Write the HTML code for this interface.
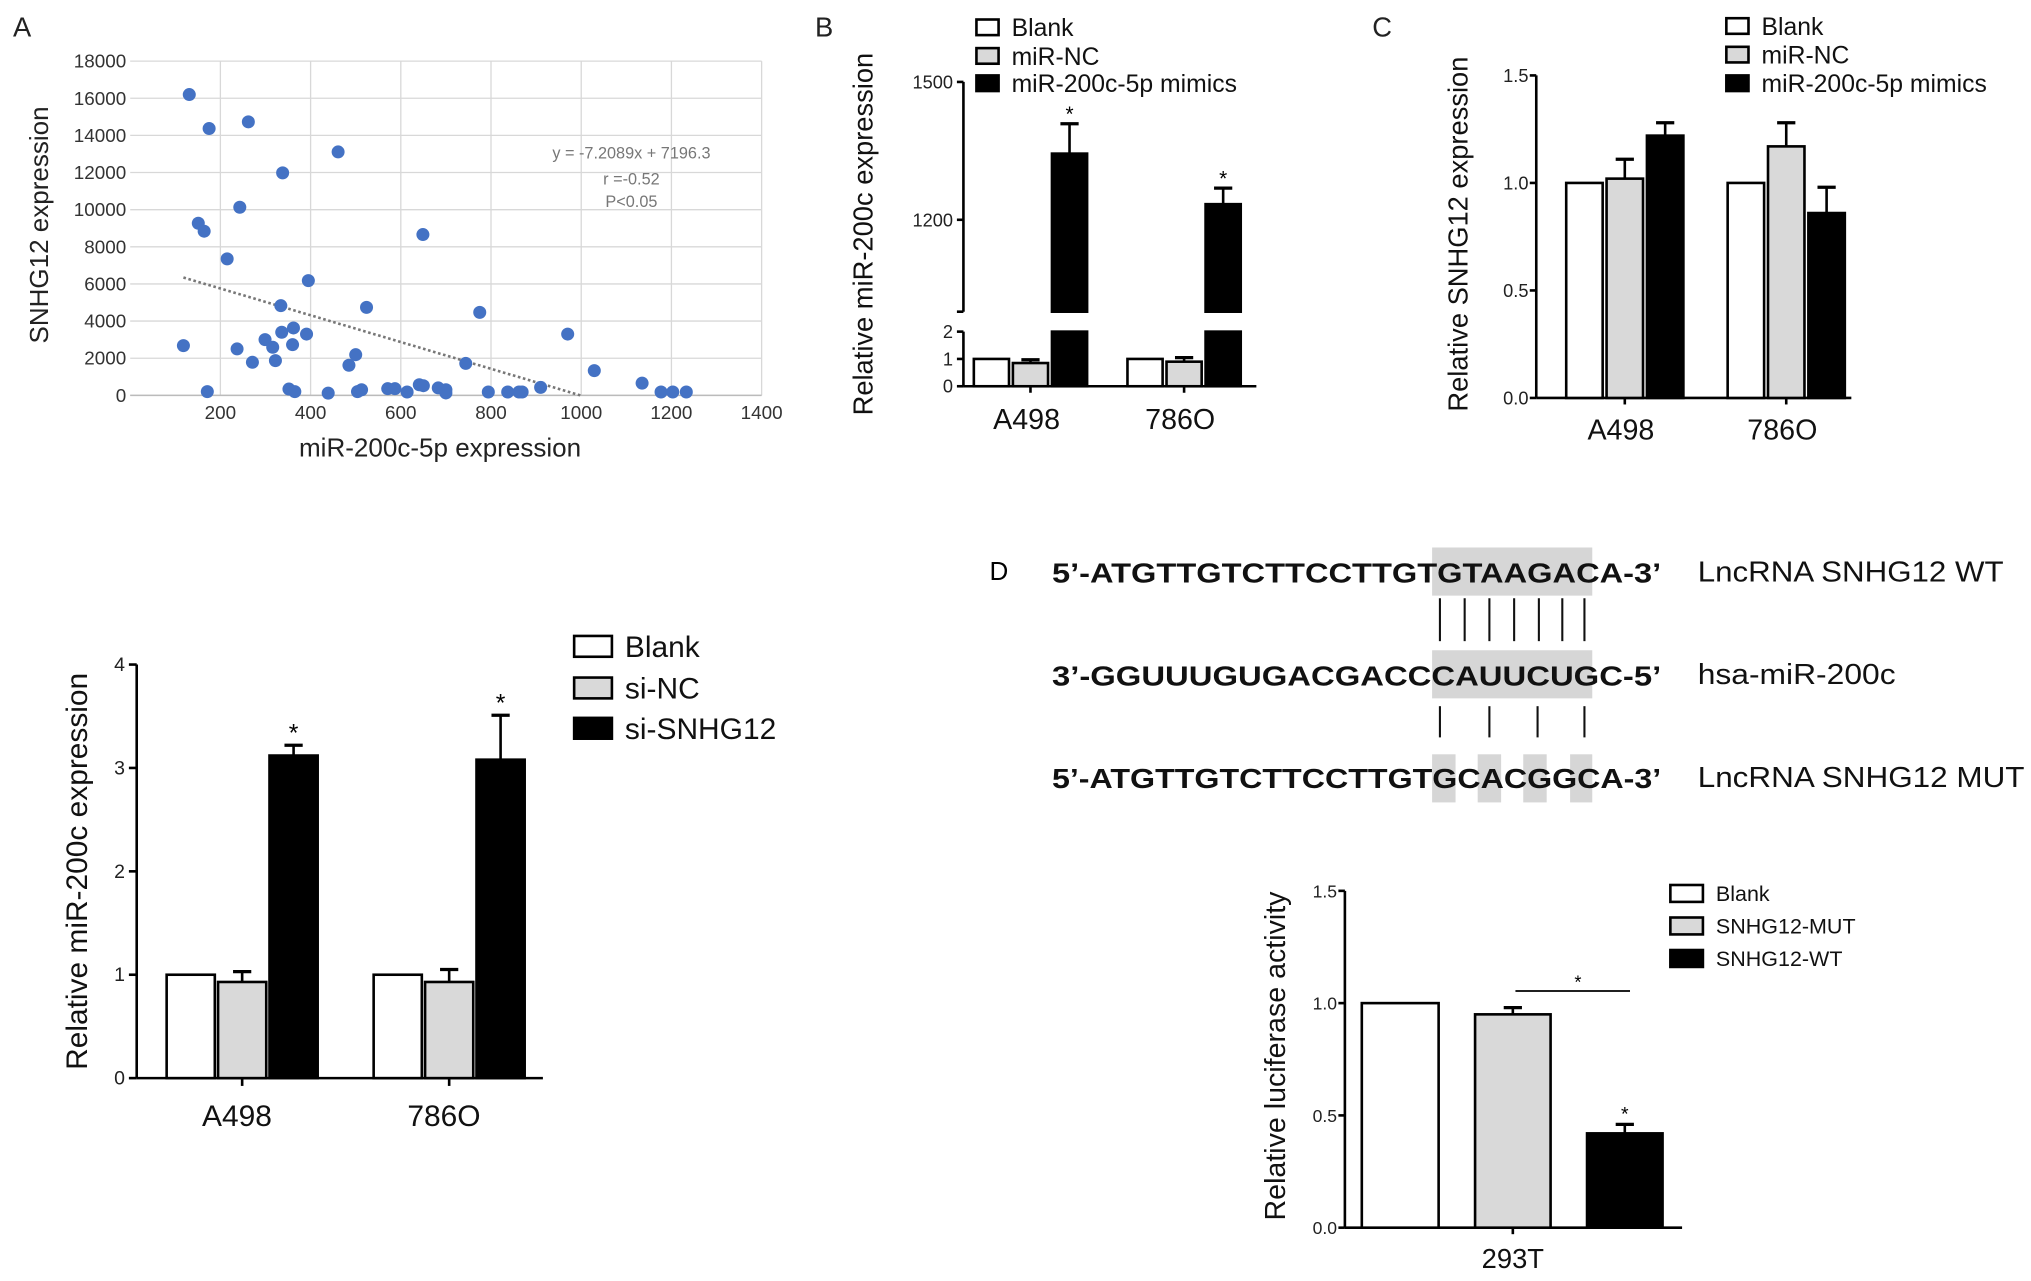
<!DOCTYPE html>
<html><head><meta charset="utf-8">
<style>
html,body{margin:0;padding:0;background:#fff;}
svg{display:block;font-family:"Liberation Sans",Arial,sans-serif;}
</style></head>
<body>
<svg id="fig" width="2031" height="1281" viewBox="0 0 1560 985" preserveAspectRatio="none">
 <rect x="0" y="0" width="1560" height="985" fill="#fff"/>
 <g id="pA"></g>
 <g id="pB"></g>
 <g id="pC"></g>
 <g id="pE"></g>
 <g id="pD">
  <text x="760" y="446" font-size="20">D</text>
  <rect x="1100" y="421" width="123" height="37" fill="#d6d6d6"/>
  <rect x="1100" y="500" width="123" height="37" fill="#d6d6d6"/>
  <rect x="1100" y="580" width="18" height="37" fill="#d6d6d6"/>
  <rect x="1135" y="580" width="18" height="37" fill="#d6d6d6"/>
  <rect x="1170" y="580" width="18" height="37" fill="#d6d6d6"/>
  <rect x="1206" y="580" width="17" height="37" fill="#d6d6d6"/>
  <g stroke="#111" stroke-width="1.6">
   <line x1="1106" y1="460" x2="1106" y2="493"/><line x1="1125" y1="460" x2="1125" y2="493"/><line x1="1144" y1="460" x2="1144" y2="493"/><line x1="1163" y1="460" x2="1163" y2="493"/><line x1="1182" y1="460" x2="1182" y2="493"/><line x1="1200" y1="460" x2="1200" y2="493"/><line x1="1217" y1="460" x2="1217" y2="493"/>
  </g>
  <g stroke="#111" stroke-width="1.6">
   <line x1="1106" y1="543" x2="1106" y2="567"/><line x1="1144" y1="543" x2="1144" y2="567"/><line x1="1181" y1="543" x2="1181" y2="567"/><line x1="1217" y1="543" x2="1217" y2="567"/>
  </g>
  <g font-weight="bold" font-size="21" fill="#111">
   <text x="808" y="448" textLength="468" lengthAdjust="spacingAndGlyphs">5’-ATGTTGTCTTCCTTGTGTAAGACA-3’</text>
   <text x="808" y="527" textLength="468" lengthAdjust="spacingAndGlyphs">3’-GGUUUGUGACGACCCAUUCUGC-5’</text>
   <text x="808" y="606" textLength="468" lengthAdjust="spacingAndGlyphs">5’-ATGTTGTCTTCCTTGTGCACGGCA-3’</text>
  </g>
  <g font-size="22" fill="#111">
   <text x="1304" y="447" textLength="235" lengthAdjust="spacingAndGlyphs">LncRNA SNHG12 WT</text>
   <text x="1304" y="526" textLength="152" lengthAdjust="spacingAndGlyphs">hsa-miR-200c</text>
   <text x="1304" y="605" textLength="251" lengthAdjust="spacingAndGlyphs">LncRNA SNHG12 MUT</text>
  </g>
 </g>
 <g id="pF"></g>
</svg>
<script>
// ---------- Panel A data ----------
const scatterX = [131,175,262,461,338,243,151,164,649,215,395,334,524,775,970,118,237,299,316,336,362,360,391,271,322,500,485,744,1029,1135,171,352,365,439,504,513,571,587,614,641,650,683,700,700,794,837,862,869,910,1177,1203,1233];
const scatterY = [16200,14370,14730,13110,11980,10130,9270,8840,8660,7350,6180,4830,4740,4470,3300,2680,2500,3000,2590,3400,3630,2730,3300,1780,1870,2190,1620,1720,1330,660,200,340,200,120,200,300,360,360,180,570,520,400,300,130,180,180,180,180,430,180,180,180];
const scatterXTicks = [200,400,600,800,1000,1200,1400];
const scatterYTicks = [0,2000,4000,6000,8000,10000,12000,14000,16000,18000];
const trendSlope = -7.2089, trendIntercept = 7196.3, trendStart = 118;

// ---------- Panel B data ----------
const bCats = ["A498","786O"];
const bBlank = [1,1], bBlankErr = [0,0];
const bNC = [0.85,0.9], bNCErr = [0.12,0.15];
const bMimic = [1344,1234], bMimicErr = [65,35];
const bLowTicks = [0,1,2], bHighTicks = [1200,1500];

// ---------- Panel C data ----------
const cCats = ["A498","786O"];
const cBlank = [1,1], cBlankErr = [0,0];
const cNC = [1.02,1.17], cNCErr = [0.09,0.11];
const cMimic = [1.22,0.86], cMimicErr = [0.06,0.12];
const cTicks = [0,0.5,1.0,1.5];

// ---------- Panel si data ----------
const eCats = ["A498","786O"];
const eBlank = [1,1], eBlankErr = [0,0];
const eNC = [0.93,0.93], eNCErr = [0.1,0.12];
const eSi = [3.12,3.08], eSiErr = [0.1,0.43];
const eTicks = [0,1,2,3,4];

// ---------- Luciferase data ----------
const fLabels = ["Blank","SNHG12-MUT","SNHG12-WT"];
const fValues = [1.0,0.95,0.42], fErr = [0,0.03,0.04];
const fTicks = [0,0.5,1.0,1.5];

const NS = "http://www.w3.org/2000/svg";
function mk(parent, tag, attrs, text){
  const e = document.createElementNS(NS, tag);
  for (const k in attrs) e.setAttribute(k, attrs[k]);
  if (text !== undefined) e.textContent = text;
  parent.appendChild(e); return e;
}
const FILL = ["#ffffff","#d9d9d9","#000000"];

// ===== Panel A =====
(function(){
  const g = document.getElementById('pA');
  const X = v => 100 + v/1400*485;
  const Y = v => 304 - v/18000*257;
  const lbl = mk(g,'text',{x:10,y:28,'font-size':21,fill:'#222'},'A');
   
  scatterYTicks.forEach(t=>{
    const l = mk(g,'line',{x1:X(0),x2:X(1400),y1:Y(t),y2:Y(t),stroke:'#d8d8d8','stroke-width':1});
     
    const tx = mk(g,'text',{x:97,y:Y(t)+5,'font-size':14.5,'text-anchor':'end',fill:'#333'},String(t));
     
  });
  scatterXTicks.forEach(t=>{
    const l = mk(g,'line',{x1:X(t),x2:X(t),y1:Y(18000),y2:Y(0),stroke:'#d8d8d8','stroke-width':1});
     
    const tx = mk(g,'text',{x:X(t),y:322,'font-size':14.5,'text-anchor':'middle',fill:'#333'},String(t));
     
  });
  const ax = mk(g,'line',{x1:X(0),x2:X(1400),y1:Y(0),y2:Y(0),stroke:'#bbb','stroke-width':1.2});
   
  const xEnd = -trendIntercept/trendSlope;
  const tl = mk(g,'line',{x1:X(trendStart),y1:Y(trendSlope*trendStart+trendIntercept),x2:X(xEnd),y2:Y(0),stroke:'#777','stroke-width':2,'stroke-dasharray':'2 2'});
   
  scatterX.forEach((v,i)=>{
    const c = mk(g,'circle',{cx:X(v),cy:Y(scatterY[i]),r:5,fill:'#4472c4'});
     
  });
  const eq = mk(g,'text',{x:485,y:122,'font-size':12.5,'text-anchor':'middle',fill:'#777'},'y = -7.2089x + 7196.3');
   
  const r = mk(g,'text',{x:485,y:142,'font-size':12.5,'text-anchor':'middle',fill:'#777'},'r =-0.52');
   
  const p = mk(g,'text',{x:485,y:159,'font-size':12.5,'text-anchor':'middle',fill:'#777'},'P<0.05');
   
  const xt = mk(g,'text',{x:338,y:351,'font-size':20,'text-anchor':'middle',fill:'#222'},'miR-200c-5p expression');
   
  const yt = mk(g,'text',{x:0,y:0,'font-size':20,'text-anchor':'middle',fill:'#222',transform:'translate(37,173) rotate(-90)'},'SNHG12 expression');
   
})();

function errBar(g, x, yTop, yErr){
  const l = mk(g,'line',{x1:x,x2:x,y1:yTop,y2:yErr,stroke:'#000','stroke-width':2});
   
  const c = mk(g,'line',{x1:x-7,x2:x+7,y1:yErr,y2:yErr,stroke:'#000','stroke-width':2.5});
   
}
function bar(g,x,w,y0,y1,fill){
  const r = mk(g,'rect',{x:x,y:Math.min(y0,y1),width:w,height:Math.abs(y0-y1),fill:fill,stroke:'#000','stroke-width':2});
   
  return r;
}
function legend(g,x,ys,labels,fs,sw,sh){
  labels.forEach((t,i)=>{
    const r = mk(g,'rect',{x:x,y:ys[i]-sh/2,width:sw,height:sh,fill:FILL[i],stroke:'#000','stroke-width':2});
     
    const tx = mk(g,'text',{x:x+sw+10,y:ys[i]+fs*0.36,'font-size':fs,fill:'#111'},t);
     
  });
}
function star(g,x,y,fs){
  const s = mk(g,'text',{x:x,y:y,'font-size':fs,'text-anchor':'middle',fill:'#000'},'*');
   
}
function yTitle(g,x,y,t,fs){
  const yt = mk(g,'text',{x:0,y:0,'font-size':fs,'text-anchor':'middle',fill:'#111',transform:'translate('+x+','+y+') rotate(-90)'},t);
   
}

// ===== Panel B =====
(function(){
  const g = document.getElementById('pB');
  const L = mk(g,'text',{x:626,y:28,'font-size':21,fill:'#222'},'B');
   
  const YL = v => 297 - v*21;
  const YH = v => 63 + (1500-v)/300*106;
  const ax=740;
  let l = mk(g,'line',{x1:ax,x2:ax,y1:YL(0),y2:YL(2),stroke:'#000','stroke-width':2});  
  l = mk(g,'line',{x1:ax,x2:ax,y1:YH(1000),y2:YH(1500),stroke:'#000','stroke-width':2});  
  l = mk(g,'line',{x1:ax-5,x2:ax,y1:YH(1000),y2:YH(1000),stroke:'#000','stroke-width':2});  
  l = mk(g,'line',{x1:ax,x2:965,y1:YL(0),y2:YL(0),stroke:'#000','stroke-width':2});  
  bLowTicks.forEach(t=>{
    const k = mk(g,'line',{x1:ax-5,x2:ax,y1:YL(t),y2:YL(t),stroke:'#000','stroke-width':2});  
    const tx = mk(g,'text',{x:ax-8,y:YL(t)+5,'font-size':14,'text-anchor':'end',fill:'#222'},String(t));  
  });
  bHighTicks.forEach(t=>{
    const k = mk(g,'line',{x1:ax-5,x2:ax,y1:YH(t),y2:YH(t),stroke:'#000','stroke-width':2});  
    const tx = mk(g,'text',{x:ax-8,y:YH(t)+5,'font-size':14,'text-anchor':'end',fill:'#222'},String(t));  
  });
  const starts=[748,866], w=27, gap=30;
  bCats.forEach((c,i)=>{
    const x0=starts[i];
    bar(g,x0,w,YL(0),YL(bBlank[i]),FILL[0]);
    bar(g,x0+gap,w,YL(0),YL(bNC[i]),FILL[1]);
    errBar(g,x0+gap+w/2,YL(bNC[i]),YL(bNC[i]+bNCErr[i]));
    bar(g,x0+2*gap,w,YL(0),YL(2),FILL[2]);
    bar(g,x0+2*gap,w,YH(1000),YH(bMimic[i]),FILL[2]);
    errBar(g,x0+2*gap+w/2,YH(bMimic[i]),YH(bMimic[i]+bMimicErr[i]));
    star(g,x0+2*gap+w/2,YH(bMimic[i]+bMimicErr[i])-2,16);
    const tk = mk(g,'line',{x1:x0+gap+w/2,x2:x0+gap+w/2,y1:YL(0),y2:YL(0)+5,stroke:'#000','stroke-width':2});  
    const tx = mk(g,'text',{x:x0+gap+w/2-3,y:330,'font-size':22,'text-anchor':'middle',fill:'#111'},c);  
  });
  legend(g,750,[21,43,64],["Blank","miR-NC","miR-200c-5p mimics"],19,17,12);
  yTitle(g,670,180,'Relative miR-200c expression',21);
})();

// ===== Panel C =====
(function(){
  const g = document.getElementById('pC');
  const L = mk(g,'text',{x:1054,y:28,'font-size':21,fill:'#222'},'C');
   
  const Y = v => 306 - v/1.5*248;
  const ax=1180;
  let l = mk(g,'line',{x1:ax,x2:ax,y1:Y(0),y2:Y(1.5),stroke:'#000','stroke-width':2});  
  l = mk(g,'line',{x1:ax,x2:1422,y1:Y(0),y2:Y(0),stroke:'#000','stroke-width':2});  
  cTicks.forEach(t=>{
    const k = mk(g,'line',{x1:ax-5,x2:ax,y1:Y(t),y2:Y(t),stroke:'#000','stroke-width':2});  
    const tx = mk(g,'text',{x:ax-6,y:Y(t)+5,'font-size':14,'text-anchor':'end',fill:'#222'},t.toFixed(1));  
  });
  const starts=[1203,1327], w=28, gap=31;
  cCats.forEach((c,i)=>{
    const x0=starts[i];
    bar(g,x0,w,Y(0),Y(cBlank[i]),FILL[0]);
    bar(g,x0+gap,w,Y(0),Y(cNC[i]),FILL[1]);
    errBar(g,x0+gap+w/2,Y(cNC[i]),Y(cNC[i]+cNCErr[i]));
    bar(g,x0+2*gap,w,Y(0),Y(cMimic[i]),FILL[2]);
    errBar(g,x0+2*gap+w/2,Y(cMimic[i]),Y(cMimic[i]+cMimicErr[i]));
    const tk = mk(g,'line',{x1:x0+gap+w/2,x2:x0+gap+w/2,y1:Y(0),y2:Y(0)+5,stroke:'#000','stroke-width':2});  
    const tx = mk(g,'text',{x:x0+gap+w/2-3,y:338,'font-size':22,'text-anchor':'middle',fill:'#111'},c);  
  });
  legend(g,1326,[20,42,64],["Blank","miR-NC","miR-200c-5p mimics"],19,17,12);
  yTitle(g,1127,180,'Relative  SNHG12  expression',21);
})();

// ===== Panel si-SNHG12 =====
(function(){
  const g = document.getElementById('pE');
  const Y = v => 829 - v*79.5;
  const ax=105;
  let l = mk(g,'line',{x1:ax,x2:ax,y1:Y(0),y2:Y(4),stroke:'#000','stroke-width':2});  
  l = mk(g,'line',{x1:ax,x2:417,y1:Y(0),y2:Y(0),stroke:'#000','stroke-width':2});  
  eTicks.forEach(t=>{
    const k = mk(g,'line',{x1:ax-6,x2:ax,y1:Y(t),y2:Y(t),stroke:'#000','stroke-width':2});  
    const tx = mk(g,'text',{x:ax-9,y:Y(t)+5,'font-size':15,'text-anchor':'end',fill:'#222'},String(t));  
  });
  const starts=[128,287], w=37, gap=39.5;
  eCats.forEach((c,i)=>{
    const x0=starts[i];
    bar(g,x0,w,Y(0),Y(eBlank[i]),FILL[0]);
    bar(g,x0+gap,w,Y(0),Y(eNC[i]),FILL[1]);
    errBar(g,x0+gap+w/2,Y(eNC[i]),Y(eNC[i]+eNCErr[i]));
    bar(g,x0+2*gap,w,Y(0),Y(eSi[i]),FILL[2]);
    errBar(g,x0+2*gap+w/2,Y(eSi[i]),Y(eSi[i]+eSiErr[i]));
    star(g,x0+2*gap+w/2,Y(eSi[i]+eSiErr[i])-3,19);
    const tk = mk(g,'line',{x1:x0+gap+w/2,x2:x0+gap+w/2,y1:Y(0),y2:Y(0)+6,stroke:'#000','stroke-width':2});  
    const tx = mk(g,'text',{x:x0+gap+w/2-4,y:866,'font-size':23,'text-anchor':'middle',fill:'#111'},c);  
  });
  legend(g,441,[497,529,560],["Blank","si-NC","si-SNHG12"],23,29,16);
  yTitle(g,67,670,'Relative miR-200c expression',23);
})();

// ===== Luciferase =====
(function(){
  const g = document.getElementById('pF');
  const Y = v => 944 - v/1.5*259;
  const ax=1033;
  let l = mk(g,'line',{x1:ax,x2:ax,y1:Y(0),y2:Y(1.5),stroke:'#000','stroke-width':2});  
  l = mk(g,'line',{x1:ax,x2:1292,y1:Y(0),y2:Y(0),stroke:'#000','stroke-width':2});  
  fTicks.forEach(t=>{
    const k = mk(g,'line',{x1:ax-5,x2:ax,y1:Y(t),y2:Y(t),stroke:'#000','stroke-width':2});  
    const tx = mk(g,'text',{x:ax-6,y:Y(t)+5,'font-size':13.5,'text-anchor':'end',fill:'#222'},t.toFixed(1));  
  });
  const xs=[1046,1133,1219], ws=[59,58,58];
  fValues.forEach((v,i)=>{
    bar(g,xs[i],ws[i],Y(0),Y(v),FILL[i]);
    if(fErr[i]>0) errBar(g,xs[i]+ws[i]/2,Y(v),Y(v+fErr[i]));
  });
  star(g,xs[2]+ws[2]/2,Y(fValues[2]+fErr[2])-3,15);
  const sl = mk(g,'line',{x1:1164,x2:1252,y1:762,y2:762,stroke:'#000','stroke-width':1.3});  
  star(g,1212,760,14);
  const tk = mk(g,'line',{x1:1162,x2:1162,y1:Y(0),y2:Y(0)+5,stroke:'#000','stroke-width':2});  
  const tx = mk(g,'text',{x:1162,y:975,'font-size':21,'text-anchor':'middle',fill:'#111'},'293T');  
  legend(g,1283,[687,712,737],fLabels,16.5,25,13);
  yTitle(g,987,812,'Relative luciferase activity',22);
})();
</script>
</body></html>
